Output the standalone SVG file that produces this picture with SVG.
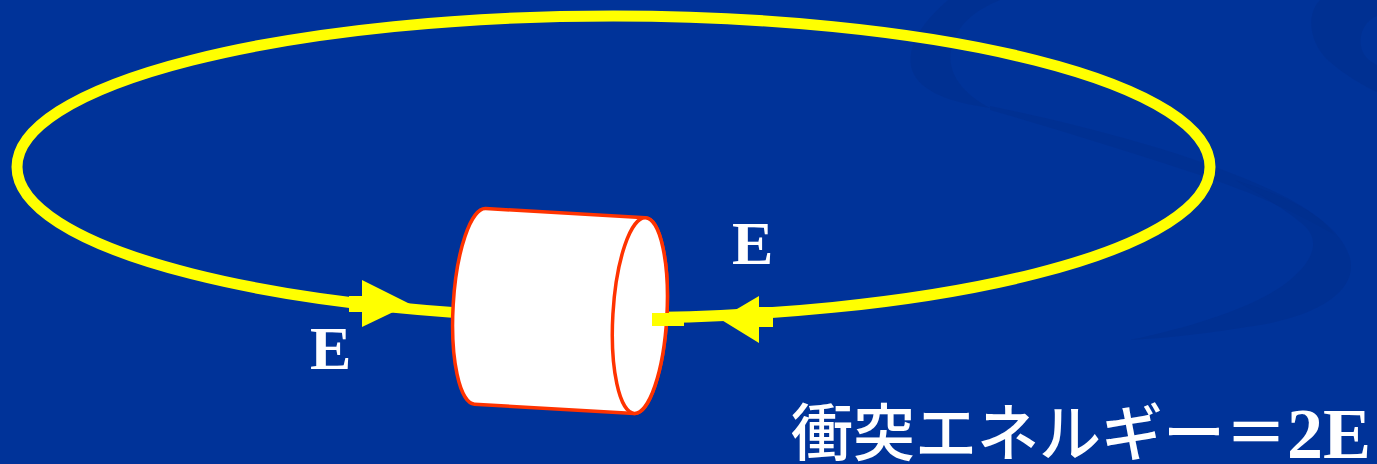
<svg xmlns="http://www.w3.org/2000/svg" width="1377" height="464" viewBox="0 0 1377 464">
  <defs>
    <style>
      .ring { fill: none; stroke: #FFFF00; stroke-width: 11; }
      .beam { fill: #FFFF00; stroke: none; }
      .shell { fill: #FFFFFF; stroke: #FF3300; stroke-width: 3.5; stroke-linejoin: round; }
      .swirl { fill: #002E8C; opacity: 0.5; }
      .lbl { font-family: "Liberation Serif", "Times New Roman", serif; font-weight: bold; fill: #FFFFFF; }
      .jp { font-family: "Noto Sans CJK JP", "Noto Sans", sans-serif; font-weight: 500; fill: #FFFFFF; }
    </style>
  </defs>

  <!-- backdrop -->
  <rect x="0" y="0" width="1377" height="464" fill="#003399"/>
  <g id="backdrop-swirls">
    <path class="swirl" d="M948,0 C925,20 905,45 912,70 C920,92 950,102 990,108 C960,92 945,70 952,45 C958,25 975,10 1000,0 Z"/>
    <path class="swirl" d="M990,106 C1080,125 1180,150 1260,185 C1300,202 1325,220 1335,235 C1300,215 1260,195 1200,175 C1130,152 1060,130 990,110 Z"/>
    <path class="swirl" d="M1235,180 C1300,200 1340,225 1350,258 C1358,290 1320,315 1260,325 C1210,333 1170,338 1130,340 C1200,325 1260,305 1290,280 C1320,255 1318,235 1300,222 C1280,205 1255,192 1235,180 Z"/>
    <path class="swirl" d="M1377,0 L1320,0 C1305,15 1310,45 1330,62 C1345,75 1362,85 1377,92 L1377,65 C1362,58 1358,45 1362,32 C1366,22 1372,18 1377,16 Z"/>
  </g>

  <!-- accelerator ring and beam arrows -->
  <g id="connectors">
    <ellipse class="ring" cx="613.5" cy="167" rx="596.5" ry="151"/>
    <g id="arrow-left">
      <rect class="beam" x="349" y="296" width="14" height="16"/>
      <polygon class="beam" points="362,280 410,304 362,327"/>
    </g>
    <g id="arrow-right">
      <rect class="beam" x="758" y="307" width="15" height="20"/>
      <polygon class="beam" points="759,296 720,319 759,343"/>
    </g>
  </g>

  <!-- collision chamber -->
  <g id="collider" transform="rotate(3.3 560 311)">
    <path class="shell" d="M480,213 L640,213 A27,98 0 0 1 640,409 L480,409 A27,98 0 0 1 480,213 Z"/>
    <ellipse class="shell" cx="640" cy="311" rx="27" ry="98"/>
  </g>
  <!-- beam leaving the chamber's end face -->
  <g id="beam-exit">
    <rect class="beam" x="652" y="313" width="32" height="13"/>
  </g>

  <!-- beam energy labels -->
  <g id="label-right">
    <text class="lbl" x="732" y="264" font-size="62">E</text>
  </g>
  <g id="label-left">
    <text class="lbl" x="310" y="369" font-size="62">E</text>
  </g>

  <!-- result -->
  <g id="caption">
    <text class="jp" x="791" y="456" font-size="62">衝突エネルギー＝<tspan class="lbl" font-size="72" dy="2">2E</tspan></text>
  </g>
</svg>
